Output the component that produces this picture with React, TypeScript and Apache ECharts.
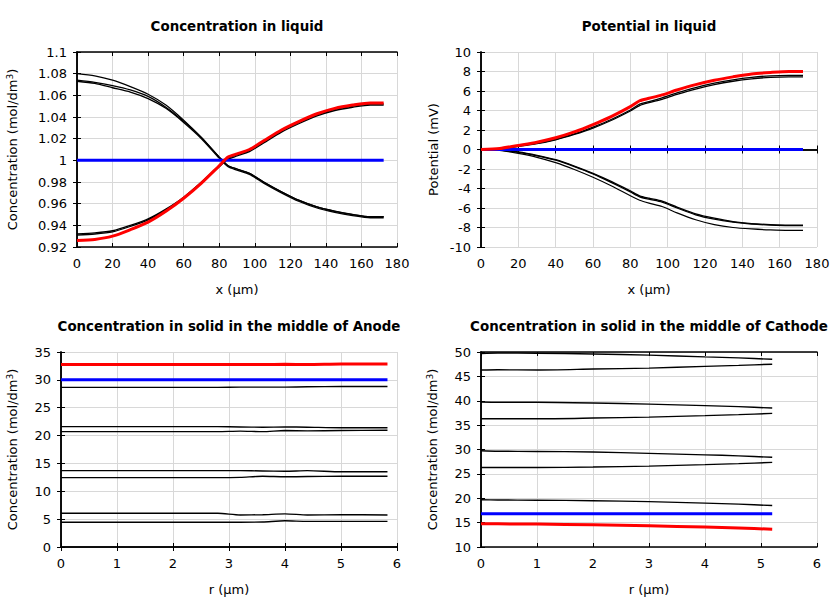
import React, { useEffect, useRef } from "react";
import * as echarts from "echarts";

// ---------- data ----------
const X_LIQ = [0, 10, 20, 30, 40, 50, 60, 70, 80, 85, 90, 97, 105, 115, 125, 135, 145, 155, 165, 172.5];

const CL_UP_A = [1.074, 1.072, 1.069, 1.065, 1.059, 1.049, 1.036, 1.021, 1.003, 0.995, 0.992, 0.988, 0.980, 0.971, 0.963, 0.957, 0.953, 0.950, 0.948, 0.948];
const CL_UP_B = [1.073, 1.071, 1.067, 1.063, 1.057, 1.048, 1.035, 1.020, 1.002, 0.994, 0.991, 0.987, 0.979, 0.970, 0.962, 0.956, 0.952, 0.949, 0.947, 0.947];
const CL_UP_THIN = [1.080, 1.078, 1.074, 1.068, 1.061, 1.051, 1.037, 1.021, 1.003, 0.995, 0.992, 0.988, 0.980, 0.971, 0.963, 0.957, 0.953, 0.950, 0.948, 0.948];
const CL_LO_A = [0.932, 0.933, 0.935, 0.940, 0.946, 0.955, 0.966, 0.980, 0.995, 1.002, 1.005, 1.009, 1.017, 1.027, 1.035, 1.042, 1.047, 1.050, 1.052, 1.052];
const CL_LO_B = [0.931, 0.932, 0.934, 0.939, 0.945, 0.954, 0.965, 0.979, 0.994, 1.001, 1.004, 1.008, 1.016, 1.026, 1.034, 1.041, 1.046, 1.049, 1.051, 1.051];
const CL_RED = [0.926, 0.927, 0.930, 0.936, 0.943, 0.953, 0.965, 0.979, 0.995, 1.003, 1.006, 1.010, 1.018, 1.028, 1.036, 1.043, 1.048, 1.051, 1.053, 1.053];
const CL_BLUE = [1, 1, 1, 1, 1, 1, 1, 1, 1, 1, 1, 1, 1, 1, 1, 1, 1, 1, 1, 1];

const PL_RED = [0, 0.1, 0.42, 0.75, 1.2, 1.8, 2.55, 3.4, 4.4, 5.0, 5.25, 5.6, 6.1, 6.65, 7.1, 7.45, 7.75, 7.9, 8.0, 8.0];
const PL_UP_A = [0, 0.08, 0.35, 0.65, 1.05, 1.6, 2.3, 3.1, 4.05, 4.65, 4.9, 5.3, 5.8, 6.35, 6.8, 7.15, 7.4, 7.55, 7.6, 7.6];
const PL_UP_B = [0, 0.07, 0.32, 0.6, 1.0, 1.55, 2.2, 3.0, 3.95, 4.5, 4.8, 5.15, 5.65, 6.2, 6.65, 7.0, 7.25, 7.4, 7.45, 7.45];
const PL_LO_A = [0, -0.05, -0.25, -0.6, -1.05, -1.7, -2.45, -3.3, -4.25, -4.75, -5.0, -5.3, -5.9, -6.6, -7.05, -7.4, -7.6, -7.7, -7.75, -7.75];
const PL_LO_B = [0, -0.06, -0.3, -0.65, -1.1, -1.75, -2.5, -3.4, -4.35, -4.85, -5.1, -5.4, -6.0, -6.7, -7.15, -7.45, -7.65, -7.75, -7.8, -7.8];
const PL_LO_THIN = [0, -0.08, -0.4, -0.8, -1.35, -2.05, -2.85, -3.75, -4.75, -5.2, -5.5, -5.85, -6.5, -7.2, -7.7, -8.0, -8.15, -8.25, -8.3, -8.3];
const PL_BLUE = [0, 0, 0, 0, 0, 0, 0, 0, 0, 0, 0, 0, 0, 0, 0, 0, 0, 0, 0, 0];

const X_AN = [0, 1, 2, 2.8, 3.2, 3.6, 4.0, 4.4, 5.0, 5.83];
const AN_RED = [32.75, 32.75, 32.75, 32.75, 32.75, 32.75, 32.8, 32.75, 32.85, 32.85];
const AN_BLUE = [30, 30, 30, 30, 30, 30, 30, 30, 30, 30];
const AN_L1 = [28.65, 28.65, 28.65, 28.65, 28.7, 28.7, 28.7, 28.75, 28.8, 28.8];
const AN_L2 = [21.6, 21.6, 21.6, 21.6, 21.55, 21.5, 21.55, 21.5, 21.4, 21.4];
const AN_L3 = [20.7, 20.7, 20.7, 20.7, 20.8, 20.7, 20.9, 20.85, 20.9, 20.95];
const AN_L4 = [13.7, 13.7, 13.7, 13.7, 13.7, 13.65, 13.6, 13.7, 13.5, 13.5];
const AN_L5 = [12.45, 12.45, 12.45, 12.45, 12.5, 12.7, 12.6, 12.65, 12.7, 12.7];
const AN_L6 = [6.05, 6.05, 6.05, 6.05, 5.75, 5.8, 5.95, 5.75, 5.8, 5.75];
const AN_L7 = [4.45, 4.45, 4.45, 4.45, 4.45, 4.5, 4.7, 4.6, 4.6, 4.6];

const X_CA = [0, 0.3, 1, 2, 3, 4, 4.6, 5.2];
const CA_L1 = [49.7, 49.8, 49.75, 49.6, 49.35, 49.0, 48.8, 48.5];
const CA_L2 = [46.3, 46.35, 46.3, 46.5, 46.7, 47.05, 47.25, 47.5];
const CA_L3 = [39.75, 39.7, 39.7, 39.55, 39.3, 39.0, 38.8, 38.5];
const CA_L4 = [36.3, 36.3, 36.3, 36.45, 36.65, 36.95, 37.15, 37.4];
const CA_L5 = [29.75, 29.65, 29.6, 29.5, 29.2, 28.9, 28.7, 28.4];
const CA_L6 = [26.3, 26.3, 26.3, 26.4, 26.6, 26.9, 27.1, 27.35];
const CA_L7 = [19.7, 19.65, 19.6, 19.5, 19.3, 19.0, 18.8, 18.5];
const CA_BLUE = [16.8, 16.8, 16.8, 16.8, 16.8, 16.8, 16.8, 16.8];
const CA_RED = [14.75, 14.75, 14.7, 14.55, 14.35, 14.1, 13.9, 13.65];

const TITLES = [
  "Concentration in liquid",
  "Potential in liquid",
  "Concentration in solid in the middle of Anode",
  "Concentration in solid in the middle of Cathode",
];

// ---------- helpers ----------
const FONT = "DejaVu Sans";
const zip = (xs: number[], ys: number[]) => xs.map((x, i) => [x, ys[i]]);

const GRIDS = [
  { left: 77, top: 52, width: 320, height: 195 },
  { left: 481, top: 52, width: 336, height: 195 },
  { left: 61, top: 352, width: 336, height: 195 },
  { left: 481, top: 352, width: 336, height: 195 },
];

const CONC = "Concentration (mol/dm{sup|3})";
const X_SPEC = [
  { min: 0, max: 180, interval: 20, name: "x (µm)" },
  { min: 0, max: 180, interval: 20, name: "x (µm)" },
  { min: 0, max: 6, interval: 1, name: "r (µm)" },
  { min: 0, max: 6, interval: 1, name: "r (µm)" },
];
const Y_SPEC = [
  { min: 0.92, max: 1.1, interval: 0.02, name: CONC, gap: 57 },
  { min: -10, max: 10, interval: 2, name: "Potential (mV)", gap: 41 },
  { min: 0, max: 35, interval: 5, name: CONC, gap: 41 },
  { min: 10, max: 50, interval: 5, name: CONC, gap: 41 },
];

export default function App() {
  const ref = useRef<HTMLDivElement>(null);
  useEffect(() => {
    if (!ref.current) return;
    const chart = echarts.init(ref.current, undefined, { renderer: "svg" });

    const axisLine = { show: true, lineStyle: { color: "#000", width: 1.5 } };
    const axisTick = { show: true, inside: true, length: 4, lineStyle: { color: "#000" } };
    const label = { color: "#000", fontFamily: FONT, fontSize: 13, margin: 10 };
    const split = { show: true, lineStyle: { color: "#d8d8d8", width: 1 } };
    const nameStyle = {
      color: "#000", fontFamily: FONT, fontSize: 13,
      rich: { sup: { fontSize: 9, verticalAlign: "top", padding: [0, 0, 6, 0], color: "#000", fontFamily: FONT } },
    };

    const xAxis: any[] = [];
    const yAxis: any[] = [];
    GRIDS.forEach((_, i) => {
      const xs = X_SPEC[i];
      const ys = Y_SPEC[i];
      xAxis.push({
        type: "value", gridIndex: i, position: "bottom", min: xs.min, max: xs.max, interval: xs.interval,
        axisLine, axisTick, axisLabel: label, splitLine: split,
        name: xs.name, nameLocation: "middle", nameGap: 36,
        nameTextStyle: nameStyle,
      });
      xAxis.push({
        type: "value", gridIndex: i, position: "top", min: xs.min, max: xs.max, interval: xs.interval,
        axisLine, axisTick, axisLabel: { show: false }, splitLine: { show: false },
      });
      yAxis.push({
        type: "value", gridIndex: i, position: "left", min: ys.min, max: ys.max, interval: ys.interval,
        axisLine, axisTick, axisLabel: label, splitLine: split,
        name: ys.name, nameLocation: "middle", nameGap: ys.gap,
        nameTextStyle: nameStyle,
      });
      yAxis.push({
        type: "value", gridIndex: i, position: "right", min: ys.min, max: ys.max, interval: ys.interval,
        axisLine, axisTick, axisLabel: { show: false }, splitLine: { show: false },
      });
    });

    const mk = (g: number, xs: number[], ys: number[], color: string, width: number) => ({
      type: "line", xAxisIndex: g * 2, yAxisIndex: g * 2, data: zip(xs, ys),
      symbol: "none", showSymbol: false, silent: true, smooth: 0.25,
      lineStyle: { color, width }, z: color === "#000" ? 2 : 3,
    });
    const BK = "#000";
    const series = [
      mk(0, X_LIQ, CL_UP_THIN, BK, 1.2),
      mk(0, X_LIQ, CL_UP_A, BK, 1.3),
      mk(0, X_LIQ, CL_UP_B, BK, 1.3),
      mk(0, X_LIQ, CL_LO_A, BK, 1.3),
      mk(0, X_LIQ, CL_LO_B, BK, 1.3),
      mk(0, X_LIQ, CL_BLUE, "#0000ff", 3),
      mk(0, X_LIQ, CL_RED, "#ff0000", 3),

      mk(1, X_LIQ, PL_UP_A, BK, 1.3),
      mk(1, X_LIQ, PL_UP_B, BK, 1.3),
      mk(1, X_LIQ, PL_LO_A, BK, 1.3),
      mk(1, X_LIQ, PL_LO_B, BK, 1.3),
      mk(1, X_LIQ, PL_LO_THIN, BK, 1.2),
      mk(1, X_LIQ, PL_BLUE, "#0000ff", 3),
      mk(1, X_LIQ, PL_RED, "#ff0000", 3),

      mk(2, X_AN, AN_L1, BK, 1.4),
      mk(2, X_AN, AN_L2, BK, 1.4),
      mk(2, X_AN, AN_L3, BK, 1.4),
      mk(2, X_AN, AN_L4, BK, 1.4),
      mk(2, X_AN, AN_L5, BK, 1.4),
      mk(2, X_AN, AN_L6, BK, 1.4),
      mk(2, X_AN, AN_L7, BK, 1.4),
      mk(2, X_AN, AN_BLUE, "#0000ff", 3),
      mk(2, X_AN, AN_RED, "#ff0000", 3),

      mk(3, X_CA, CA_L1, BK, 1.4),
      mk(3, X_CA, CA_L2, BK, 1.4),
      mk(3, X_CA, CA_L3, BK, 1.4),
      mk(3, X_CA, CA_L4, BK, 1.4),
      mk(3, X_CA, CA_L5, BK, 1.4),
      mk(3, X_CA, CA_L6, BK, 1.4),
      mk(3, X_CA, CA_L7, BK, 1.4),
      mk(3, X_CA, CA_BLUE, "#0000ff", 3),
      mk(3, X_CA, CA_RED, "#ff0000", 3),
    ];

    const title = TITLES.map((t, i) => ({
      text: t,
      left: GRIDS[i].left + GRIDS[i].width / 2 - 5,
      top: GRIDS[i].top - 37,
      textAlign: "center",
      textStyle: { color: "#000", fontFamily: FONT, fontSize: 13.4, fontWeight: "bold" },
    }));

    chart.setOption({
      animation: false,
      backgroundColor: "#fff",
      title,
      grid: GRIDS.map((g) => ({ ...g, containLabel: false })),
      xAxis,
      yAxis,
      series,
    });
    return () => chart.dispose();
  }, []);
  return (
    <div
      ref={ref}
      style={{ position: "fixed", left: 0, top: 0, width: 840, height: 600 }}
    />
  );
}
